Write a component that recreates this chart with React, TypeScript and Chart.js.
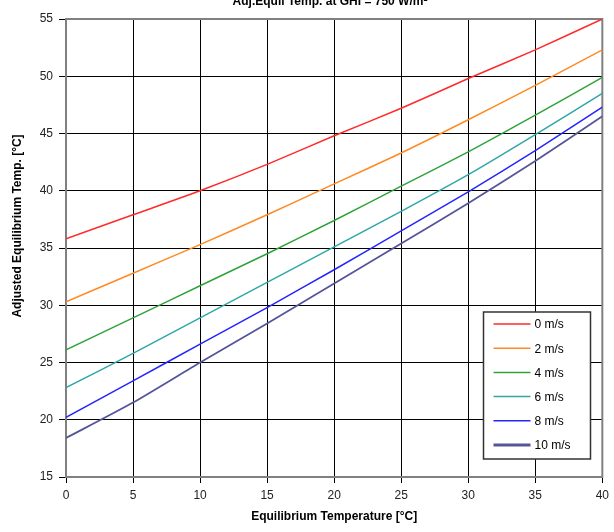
import React, { useEffect, useRef } from 'react';
import { Chart, registerables } from 'chart.js';

Chart.register(...registerables);

const chartTitle = 'Adj.Equil Temp. at GHI = 750 W/m²';
const xAxisTitle = 'Equilibrium Temperature [°C]';
const yAxisTitle = 'Adjusted Equilibrium Temp. [°C]';

const equilTemps = [0, 5, 10, 15, 20, 25, 30, 35, 40];
const windLabels = ['0 m/s', '2 m/s', '4 m/s', '6 m/s', '8 m/s', '10 m/s'];

const wind0 = [35.8, 37.9, 40.0, 42.3, 44.8, 47.2, 49.8, 52.3, 55.0];
const wind2 = [30.3, 32.8, 35.3, 37.9, 40.6, 43.3, 46.2, 49.2, 52.3];
const wind4 = [26.1, 28.9, 31.7, 34.5, 37.4, 40.4, 43.4, 46.6, 49.9];
const wind6 = [22.8, 25.8, 28.9, 32.0, 35.1, 38.2, 41.4, 44.9, 48.5];
const wind8 = [20.2, 23.4, 26.6, 29.8, 33.1, 36.5, 39.9, 43.5, 47.3];
const wind10 = [18.4, 21.5, 25.0, 28.4, 31.9, 35.4, 38.9, 42.6, 46.5];

const seriesValues = [wind0, wind2, wind4, wind6, wind8, wind10];
const seriesColors = ['#ff2a2a', '#ff8a24', '#2fa33a', '#2fa7a7', '#2424ff', '#55559a'];
const seriesWidths = [1.5, 1.5, 1.5, 1.5, 1.5, 1.8];

const yTicks = { min: 15, max: 55, step: 5 };
const xTicks = { min: 0, max: 40, step: 5 };

const FONT = '"Liberation Sans", Arial, sans-serif';

const decorPlugin = {
  id: 'decor',
  beforeDatasetsDraw(chart: any) {
    const { ctx, chartArea: a } = chart;
    ctx.save();
    ctx.strokeStyle = '#808080';
    ctx.lineWidth = 2;
    ctx.strokeRect(a.left, a.top, a.right - a.left, a.bottom - a.top);
    ctx.restore();
  },
  afterDraw(chart: any) {
    const { ctx } = chart;
    ctx.save();
    ctx.fillStyle = '#000';
    ctx.font = `bold 12px ${FONT}`;
    ctx.textAlign = 'center';
    ctx.textBaseline = 'alphabetic';
    ctx.fillText(chartTitle, 330, 5);

    ctx.save();
    ctx.translate(18, 226);
    ctx.rotate(-Math.PI / 2);
    ctx.textAlign = 'center';
    ctx.textBaseline = 'middle';
    ctx.fillText(yAxisTitle, 0, 0);
    ctx.restore();

    const bx = 483.5, by = 312, bw = 107, bh = 147;
    ctx.fillStyle = '#fff';
    ctx.fillRect(bx, by, bw, bh);
    ctx.strokeStyle = '#333';
    ctx.lineWidth = 1.5;
    ctx.strokeRect(bx, by, bw, bh);
    ctx.font = `12px ${FONT}`;
    ctx.textAlign = 'left';
    ctx.textBaseline = 'middle';
    chart.data.datasets.forEach((ds: any, i: number) => {
      const y = by + 12 + i * 24.2;
      ctx.strokeStyle = ds.borderColor;
      ctx.lineWidth = i === 5 ? 3 : 1.5;
      ctx.beginPath();
      ctx.moveTo(bx + 10, y);
      ctx.lineTo(bx + 47, y);
      ctx.stroke();
      ctx.fillStyle = '#000';
      ctx.fillText(ds.label, bx + 51, y + 1);
    });
    ctx.restore();
  },
};

export default function App() {
  const canvasRef = useRef<HTMLCanvasElement | null>(null);

  useEffect(() => {
    if (!canvasRef.current) return;
    const datasets = seriesValues.map((vals, i) => ({
      label: windLabels[i],
      data: vals.map((v, j) => ({ x: equilTemps[j], y: v })),
      borderColor: seriesColors[i],
      backgroundColor: seriesColors[i],
      borderWidth: seriesWidths[i],
      pointRadius: 0,
      tension: 0.2,
      fill: false,
    }));
    const chart = new Chart(canvasRef.current, {
      type: 'line',
      data: { datasets },
      plugins: [decorPlugin],
      options: {
        animation: false,
        responsive: true,
        maintainAspectRatio: false,
        layout: { padding: { top: 19, right: 9, left: 0, bottom: 0 } },
        plugins: {
          legend: { display: false },
          title: { display: false },
          tooltip: { enabled: false },
        },
        scales: {
          x: {
            type: 'linear',
            min: xTicks.min,
            max: xTicks.max,
            ticks: { stepSize: xTicks.step, color: '#222', font: { family: FONT, size: 12 }, padding: 5, maxRotation: 0 },
            grid: { color: '#000', lineWidth: 1, tickLength: 6, tickColor: '#000' },
            border: { display: false },
            title: { display: true, text: xAxisTitle, color: '#000', font: { family: FONT, size: 12, weight: 'bold' }, padding: { top: 0, bottom: 8 } },
            afterFit: (s: any) => { s.height = 55; },
          },
          y: {
            type: 'linear',
            min: yTicks.min,
            max: yTicks.max,
            ticks: { stepSize: yTicks.step, color: '#222', font: { family: FONT, size: 12 }, padding: 6 },
            grid: { color: '#000', lineWidth: 1, tickLength: 7, tickColor: '#000' },
            border: { display: false },
            afterFit: (s: any) => { s.width = 66; },
          },
        },
      } as any,
    });
    return () => chart.destroy();
  }, []);

  return (
    <div style={{ position: 'absolute', left: 0, top: 0, width: 614, height: 532, background: '#fff' }}>
      <canvas ref={canvasRef} />
    </div>
  );
}
